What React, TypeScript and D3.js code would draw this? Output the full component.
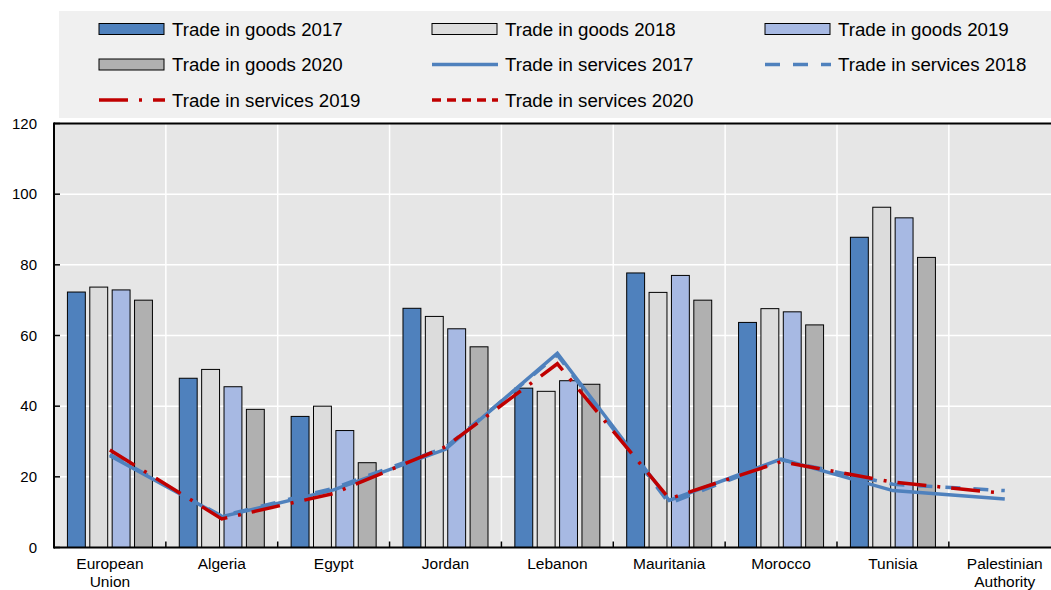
import React from "react";
import * as d3 from "d3";

const categories = [
  "European Union",
  "Algeria",
  "Egypt",
  "Jordan",
  "Lebanon",
  "Mauritania",
  "Morocco",
  "Tunisia",
  "Palestinian Authority",
];

const goods2017 = [72.3, 47.9, 37.1, 67.7, 45.1, 77.7, 63.7, 87.8, null];
const goods2018 = [73.7, 50.4, 40.0, 65.4, 44.2, 72.2, 67.6, 96.3, null];
const goods2019 = [72.9, 45.5, 33.1, 61.9, 47.2, 77.0, 66.7, 93.3, null];
const goods2020 = [70.0, 39.1, 24.0, 56.8, 46.2, 70.0, 63.0, 82.1, null];

const services2017 = [26.0, 8.7, 16.3, 27.8, 55.0, 13.3, 25.0, 16.1, 13.7];
const services2018 = [26.3, 8.9, 16.8, 28.3, 54.5, 12.5, 24.8, 17.9, 16.1];
const services2019 = [27.6, 8.1, 15.3, 28.5, 52.0, 13.8, 24.3, 18.5, 15.3];
const services2020 = [null, null, null, null, null, null, null, null, null];

const yTicks = [0, 20, 40, 60, 80, 100, 120];

const barSeries = [
  { name: "Trade in goods 2017", key: "2017", values: goods2017, fill: "#4f81bd" },
  { name: "Trade in goods 2018", key: "2018", values: goods2018, fill: "#dcdcdc" },
  { name: "Trade in goods 2019", key: "2019", values: goods2019, fill: "#a7b9e3" },
  { name: "Trade in goods 2020", key: "2020", values: goods2020, fill: "#b0b0b0" },
];

const lineSeries = [
  { name: "Trade in services 2017", values: services2017, color: "#4f81bd", dash: "" },
  { name: "Trade in services 2018", values: services2018, color: "#4f81bd", dash: "15,13" },
  { name: "Trade in services 2019", values: services2019, color: "#c00000", dash: "29,11,3,11" },
  { name: "Trade in services 2020", values: services2020, color: "#c00000", dash: "9,6" },
];

const legendItems = [
  { type: "bar", s: barSeries[0] },
  { type: "bar", s: barSeries[1] },
  { type: "bar", s: barSeries[2] },
  { type: "bar", s: barSeries[3] },
  { type: "line", s: lineSeries[0] },
  { type: "line", s: lineSeries[1] },
  { type: "line", s: lineSeries[2] },
  { type: "line", s: lineSeries[3] },
];

const W = 1051;
const H = 590;
const FONT = "'Liberation Sans', Arial, sans-serif";

export default function App() {
  const left = 54;
  const right = 1060.7;
  const top = 123.5;
  const bottom = 547.5;

  const x0 = d3.scaleBand<string>().domain(categories).range([left, right]).paddingInner(0).paddingOuter(0);
  const bw = x0.bandwidth();
  const x1 = d3
    .scaleBand<string>()
    .domain(barSeries.map((s) => s.key))
    .range([0, bw])
    .paddingInner(0.2)
    .paddingOuter(0.6);
  const y = d3.scaleLinear().domain([0, 120]).range([bottom, top]);

  const lineGen = d3
    .line<number | null>()
    .defined((d) => d != null)
    .x((_, i) => (x0(categories[i]) as number) + bw / 2)
    .y((d) => y(d as number));

  const legendCols = [99, 432, 765];
  const legendRows = [29, 64.5, 100];

  return (
    <svg
      width={W}
      height={H}
      style={{ position: "absolute", left: 0, top: 0, display: "block" }}
      fontFamily={FONT}
    >
      <rect x={0} y={0} width={W} height={H} fill="#ffffff" />
      {/* legend */}
      <rect x={59} y={11} width={W - 59} height={107} fill="#f0f0f0" />
      {legendItems.map((it, i) => {
        const cx = legendCols[i % 3];
        const cy = legendRows[Math.floor(i / 3)];
        return (
          <g key={i}>
            {it.type === "bar" ? (
              <rect
                x={cx}
                y={cy - 5.5}
                width={65}
                height={11}
                fill={(it.s as any).fill}
                stroke="#000"
                strokeWidth={1}
              />
            ) : (
              <line
                x1={cx}
                x2={cx + 66}
                y1={cy}
                y2={cy}
                stroke={(it.s as any).color}
                strokeWidth={3.5}
                strokeDasharray={(it.s as any).dash || undefined}
              />
            )}
            <text x={cx + 73} y={cy} dy="0.35em" fontSize={18.7} fill="#000">
              {it.s.name}
            </text>
          </g>
        );
      })}

      {/* plot background */}
      <rect x={left} y={top} width={right - left} height={bottom - top} fill="#e6e6e6" />
      {/* horizontal grid */}
      {yTicks
        .filter((t) => t > 0 && t < 120)
        .map((t) => (
          <line key={"hg" + t} x1={left} x2={right} y1={y(t)} y2={y(t)} stroke="#ffffff" strokeWidth={1.5} />
        ))}
      {/* vertical grid */}
      {categories.slice(1).map((c) => (
        <line
          key={"vg" + c}
          x1={x0(c) as number}
          x2={x0(c) as number}
          y1={top}
          y2={bottom}
          stroke="#ffffff"
          strokeWidth={1.5}
        />
      ))}

      {/* bars */}
      {barSeries.map((s) => (
        <g key={s.key}>
          {s.values.map((v, i) =>
            v == null ? null : (
              <rect
                key={i}
                x={(x0(categories[i]) as number) + (x1(s.key) as number)}
                y={y(v)}
                width={x1.bandwidth()}
                height={y(0) - y(v)}
                fill={s.fill}
                stroke="#000"
                strokeWidth={1}
              />
            )
          )}
        </g>
      ))}

      {/* lines */}
      {lineSeries.map((s, i) => (
        <path
          key={"l" + i}
          d={lineGen(s.values) || ""}
          fill="none"
          stroke={s.color}
          strokeWidth={3.5}
          strokeDasharray={s.dash || undefined}
        />
      ))}

      {/* axes */}
      <line x1={left} x2={right} y1={top} y2={top} stroke="#000" strokeWidth={2} />
      <line x1={left} x2={left} y1={top - 1} y2={bottom + 1} stroke="#000" strokeWidth={2} />
      <line x1={left} x2={right} y1={bottom} y2={bottom} stroke="#000" strokeWidth={2} />
      {yTicks.map((t) => (
        <g key={"yt" + t}>
          <line x1={left} x2={left + 6} y1={y(t)} y2={y(t)} stroke="#000" strokeWidth={1.5} />
          <text x={37} y={y(t)} dy="0.35em" textAnchor="end" fontSize={15} fill="#000">
            {t}
          </text>
        </g>
      ))}
      {categories.slice(1).map((c) => (
        <line
          key={"xt" + c}
          x1={x0(c) as number}
          x2={x0(c) as number}
          y1={bottom}
          y2={bottom - 6}
          stroke="#000"
          strokeWidth={1.5}
        />
      ))}
      {categories.map((c) => {
        const parts = c.split(" ");
        const cx = (x0(c) as number) + bw / 2;
        return (
          <text key={"xl" + c} x={cx} y={569} textAnchor="middle" fontSize={15.5} fill="#000">
            {parts.map((p, j) => (
              <tspan key={j} x={cx} dy={j === 0 ? 0 : 18}>
                {p}
              </tspan>
            ))}
          </text>
        );
      })}
    </svg>
  );
}
